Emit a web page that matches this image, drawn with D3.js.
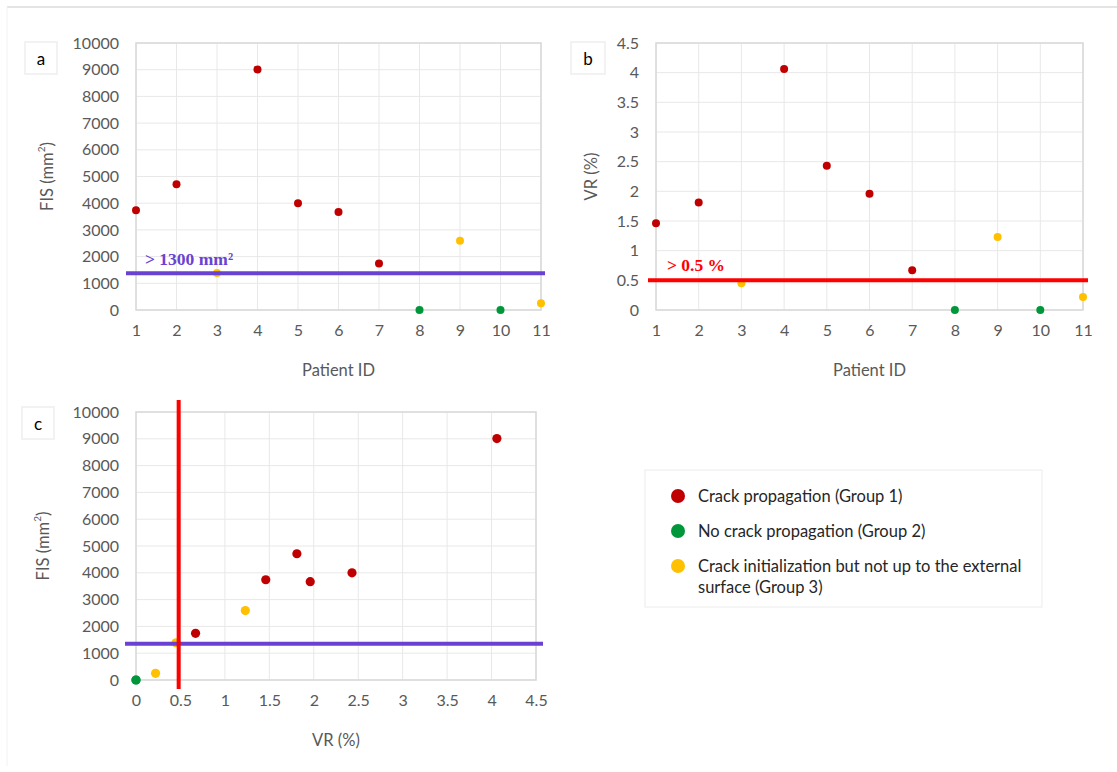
<!DOCTYPE html>
<html>
<head>
<meta charset="utf-8">
<script src="https://cdn.jsdelivr.net/npm/d3@7"></script>
<style>
  html, body { margin: 0; padding: 0; background: #fff; }
  svg { display: block; font-family: Lato, "Open Sans", sans-serif; }
</style>
</head>
<body>
<div id="chart"></div>
<script>
// data
const patientIds = [1, 2, 3, 4, 5, 6, 7, 8, 9, 10, 11];
const fisValues = [3740, 4710, 1390, 9010, 4000, 3670, 1740, 0, 2590, 0, 250];
const vrValues = [1.46, 1.81, 0.45, 4.06, 2.43, 1.96, 0.67, 0, 1.23, 0, 0.22];
const groups = [1, 1, 3, 1, 1, 1, 1, 2, 3, 2, 3];

const groupIds = [1, 2, 3];
const groupLabels = [
    ["Crack propagation (Group 1)"],
    ["No crack propagation (Group 2)"],
    ["Crack initialization but not up to the external", "surface (Group 3)"]
];
const groupColors = ["#c00000", "#00973a", "#ffc000"];

const fisTicks = [0, 1000, 2000, 3000, 4000, 5000, 6000, 7000, 8000, 9000, 10000];
const vrTicks = [0, 0.5, 1, 1.5, 2, 2.5, 3, 3.5, 4, 4.5];

const fisLimitA = 1380;
const fisLimitC = 1350;
const vrLimit = 0.5;
const vrLimitC = 0.48;
const fisLimitLabel = "> 1300 mm\u00b2";
const vrLimitLabel = "> 0.5 %";

const purple = "#6a42d2";
const red = "#ff0000";
const gray = "#595959";
const grid = "#e8e8e8";

const points = patientIds.map((id, i) => ({
    id: id,
    fis: fisValues[i],
    vr: vrValues[i],
    group: groups[i]
}));
const color = d3.scaleOrdinal().domain(groupIds).range(groupColors);

const width = 1117;
const height = 772;

const svg = d3.select("#chart")
    .append("svg")
    .attr("width", width)
    .attr("height", height);

// faint figure frame
svg.append("line")
    .attr("x1", 7).attr("x2", width).attr("y1", 7).attr("y2", 7)
    .attr("stroke", "#e4e4e4").attr("stroke-width", 2);
svg.append("line")
    .attr("x1", 7).attr("x2", 7).attr("y1", 7).attr("y2", 766)
    .attr("stroke", "#f2f2f2").attr("stroke-width", 1);

function panel(cfg) {
    const g = svg.append("g");
    const x = d3.scaleLinear().domain(cfg.xDomain).range([cfg.left, cfg.right]);
    const y = d3.scaleLinear().domain(cfg.yDomain).range([cfg.bottom, cfg.top]);

    // gridlines
    g.selectAll(".vgrid")
        .data(cfg.xTicks)
        .join("line")
            .attr("x1", d => x(d)).attr("x2", d => x(d))
            .attr("y1", cfg.top).attr("y2", cfg.bottom)
            .attr("stroke", grid).attr("stroke-width", 1);
    g.selectAll(".hgrid")
        .data(cfg.yTicks)
        .join("line")
            .attr("x1", cfg.left).attr("x2", cfg.right)
            .attr("y1", d => y(d)).attr("y2", d => y(d))
            .attr("stroke", grid).attr("stroke-width", 1);

    // plot area border
    g.append("rect")
        .attr("x", cfg.left).attr("y", cfg.top)
        .attr("width", cfg.right - cfg.left)
        .attr("height", cfg.bottom - cfg.top)
        .attr("fill", "none")
        .attr("stroke", "#d9d9d9").attr("stroke-width", 1.5);

    // axes, only labels shown
    const xAxis = g.append("g")
        .attr("transform", `translate(0, ${cfg.bottom})`)
        .call(d3.axisBottom(x).tickValues(cfg.xTicks).tickSize(0).tickPadding(15).tickFormat(d => d));
    const yAxis = g.append("g")
        .attr("transform", `translate(${cfg.left}, 0)`)
        .call(d3.axisLeft(y).tickValues(cfg.yTicks).tickSize(0).tickPadding(17).tickFormat(d => d));
    [xAxis, yAxis].forEach(a => {
        a.select(".domain").remove();
        a.selectAll("text")
            .attr("fill", gray)
            .style("font-size", "16px")
            .style("font-family", "Lato, sans-serif");
    });

    // axis titles
    g.append("text")
        .attr("x", (cfg.left + cfg.right) / 2)
        .attr("y", cfg.xTitleY)
        .attr("text-anchor", "middle")
        .attr("dominant-baseline", "central")
        .attr("fill", gray)
        .style("font-size", "16.5px")
        .text(cfg.xTitle);
    const yt = g.append("text")
        .attr("transform", `translate(${cfg.yTitleX}, ${(cfg.top + cfg.bottom) / 2}) rotate(-90)`)
        .attr("text-anchor", "middle")
        .attr("dominant-baseline", "central")
        .attr("fill", gray)
        .style("font-size", "16.5px");
    yt.append("tspan").text(cfg.yTitle[0]);
    if (cfg.yTitle[1]) {
        yt.append("tspan").attr("dy", -6).style("font-size", "10px").text(cfg.yTitle[1]);
        yt.append("tspan").attr("dy", 6).text(cfg.yTitle[2]);
    }

    // points
    g.selectAll(".pt")
        .data(points)
        .join("circle")
            .attr("cx", d => x(cfg.xVal(d)))
            .attr("cy", d => y(cfg.yVal(d)))
            .attr("r", cfg.r)
            .attr("fill", d => color(d.group));

    // panel letter box
    g.append("rect")
        .attr("x", cfg.box[0]).attr("y", cfg.box[1])
        .attr("width", cfg.box[2]).attr("height", 32)
        .attr("fill", "#fff")
        .attr("stroke", "#eeeeee").attr("stroke-width", 1.5);
    g.append("text")
        .attr("x", cfg.box[0] + cfg.box[2] / 2)
        .attr("y", cfg.box[1] + 16)
        .attr("text-anchor", "middle")
        .attr("dominant-baseline", "central")
        .attr("fill", "#000")
        .style("font-size", "17px")
        .text(cfg.letter);

    return { g, x, y };
}

// a: FIS by patient
const pa = panel({
    left: 136, right: 541, top: 43, bottom: 310,
    xDomain: [1, 11], yDomain: [0, 10000],
    xTicks: patientIds, yTicks: fisTicks,
    xVal: d => d.id, yVal: d => d.fis,
    xTitle: "Patient ID", xTitleY: 370,
    yTitle: ["FIS (mm", "2", ")"], yTitleX: 47,
    r: 4, letter: "a", box: [25, 42, 32]
});
pa.g.append("line")
    .attr("x1", 126).attr("x2", 545)
    .attr("y1", pa.y(fisLimitA)).attr("y2", pa.y(fisLimitA))
    .attr("stroke", purple).attr("stroke-width", 4);
pa.g.append("text")
    .attr("x", 145).attr("y", pa.y(fisLimitA) - 8)
    .attr("fill", purple)
    .style("font-family", "'Liberation Serif', 'DejaVu Serif', serif")
    .style("font-weight", "bold")
    .style("font-size", "17.5px")
    .text(fisLimitLabel);

// b: VR by patient
const pb = panel({
    left: 656, right: 1083, top: 43, bottom: 310,
    xDomain: [1, 11], yDomain: [0, 4.5],
    xTicks: patientIds, yTicks: vrTicks,
    xVal: d => d.id, yVal: d => d.vr,
    xTitle: "Patient ID", xTitleY: 370,
    yTitle: ["VR (%)"], yTitleX: 591,
    r: 4, letter: "b", box: [571, 42, 34]
});
pb.g.append("line")
    .attr("x1", 648).attr("x2", 1088)
    .attr("y1", pb.y(vrLimit)).attr("y2", pb.y(vrLimit))
    .attr("stroke", red).attr("stroke-width", 4);
pb.g.append("text")
    .attr("x", 667).attr("y", pb.y(vrLimit) - 9)
    .attr("fill", red)
    .style("font-family", "'Liberation Serif', 'DejaVu Serif', serif")
    .style("font-weight", "bold")
    .style("font-size", "17.5px")
    .text(vrLimitLabel);

// c: FIS vs VR
const pc = panel({
    left: 136, right: 536, top: 412, bottom: 680,
    xDomain: [0, 4.5], yDomain: [0, 10000],
    xTicks: vrTicks, yTicks: fisTicks,
    xVal: d => d.vr, yVal: d => d.fis,
    xTitle: "VR (%)", xTitleY: 740,
    yTitle: ["FIS (mm", "2", ")"], yTitleX: 43,
    r: 4.6, letter: "c", box: [22, 407, 32]
});
pc.g.append("line")
    .attr("x1", 125).attr("x2", 543)
    .attr("y1", pc.y(fisLimitC)).attr("y2", pc.y(fisLimitC))
    .attr("stroke", purple).attr("stroke-width", 4);
pc.g.append("line")
    .attr("x1", pc.x(vrLimitC)).attr("x2", pc.x(vrLimitC))
    .attr("y1", 400).attr("y2", 689)
    .attr("stroke", red).attr("stroke-width", 4);

// legend
const legend = svg.append("g");
legend.append("rect")
    .attr("x", 645).attr("y", 470)
    .attr("width", 397).attr("height", 137)
    .attr("fill", "#fff")
    .attr("stroke", "#ececec").attr("stroke-width", 1);

const items = legend.selectAll(".item")
    .data(groupIds)
    .join("g")
        .attr("transform", (d, i) => `translate(678, ${496 + i * 35})`);
items.append("circle")
    .attr("r", 7)
    .attr("fill", d => color(d));
items.append("text")
    .attr("x", 20)
    .attr("fill", "#262626")
    .attr("dominant-baseline", "central")
    .style("font-size", "16.5px")
    .selectAll("tspan")
    .data((d, i) => groupLabels[i])
    .join("tspan")
        .attr("x", 20)
        .attr("dy", (d, i) => i === 0 ? 0 : 21)
        .text(d => d);
</script>
</body>
</html>
